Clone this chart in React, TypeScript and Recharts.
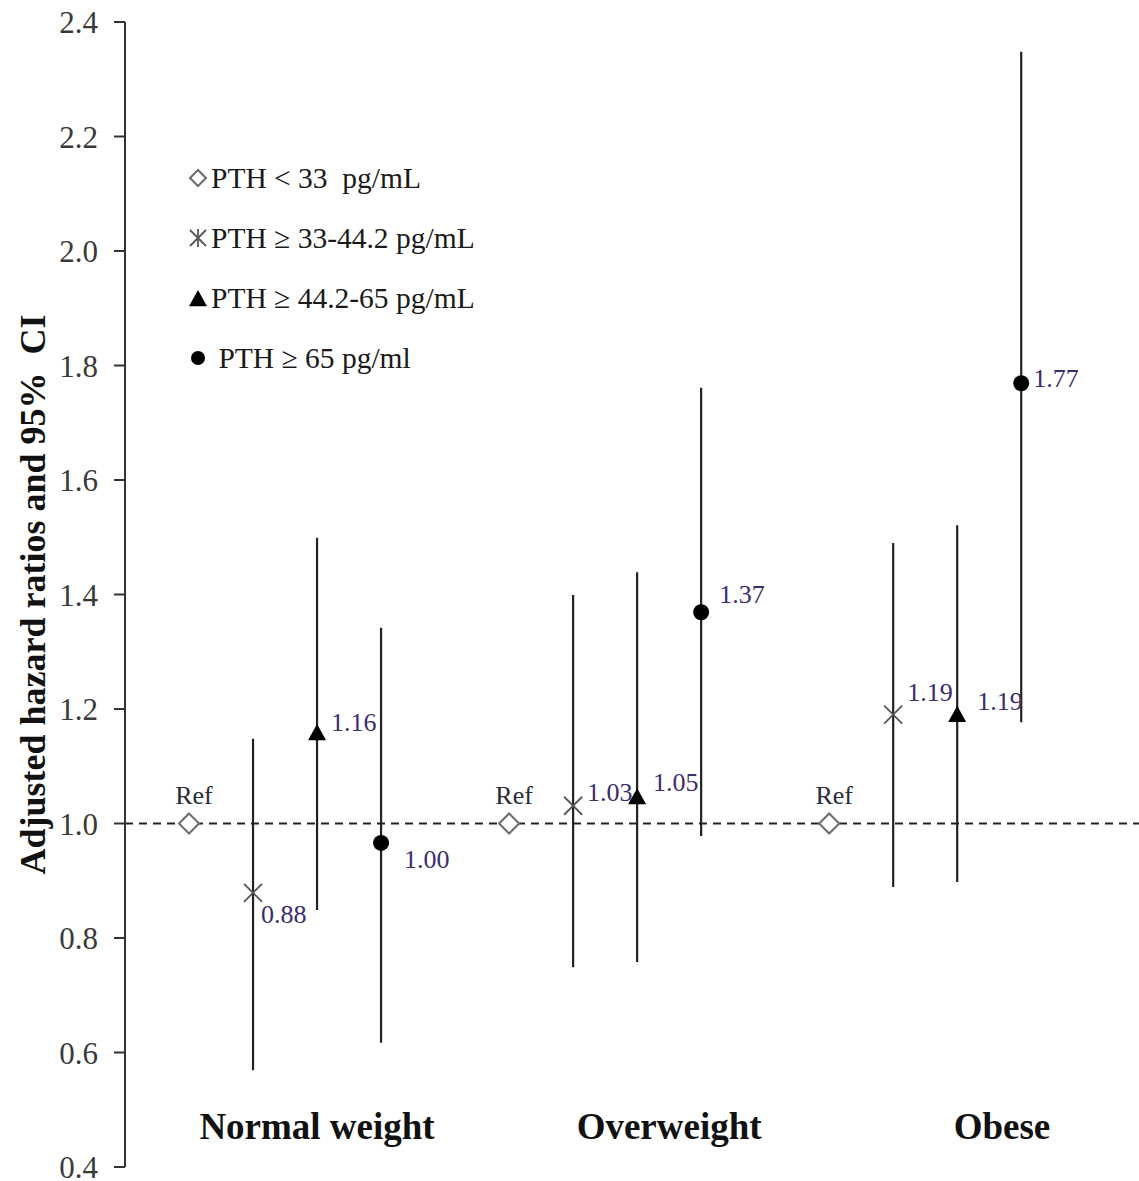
import {
  ComposedChart,
  Scatter,
  XAxis,
  YAxis,
  ErrorBar,
  ReferenceLine,
  Legend,
} from 'recharts';

// BMI groups and PTH quartile series (hazard ratio + 95% CI)
const groups = ['Normal weight', 'Overweight', 'Obese'];
const yTicks = [0.4, 0.6, 0.8, 1.0, 1.2, 1.4, 1.6, 1.8, 2.0, 2.2, 2.4];

const refHR = [1.0, 1.0, 1.0];

const hrQ2 = [0.879, 1.031, 1.19];
const ciQ2 = [[0.569, 1.148], [0.749, 1.399], [0.889, 1.49]];
const labelsQ2 = ['0.88', '1.03', '1.19'];

const hrQ3 = [1.158, 1.046, 1.19];
const ciQ3 = [[0.849, 1.499], [0.758, 1.439], [0.898, 1.521]];
const labelsQ3 = ['1.16', '1.05', '1.19'];

const hrQ4 = [0.966, 1.369, 1.769];
const ciQ4 = [[0.617, 1.342], [0.978, 1.761], [1.177, 2.348]];
const labelsQ4 = ['1.00', '1.37', '1.77'];

const legendItems = [
  { key: 'ref', text: 'PTH < 33  pg/mL' },
  { key: 'q2', text: 'PTH ≥ 33-44.2 pg/mL' },
  { key: 'q3', text: 'PTH ≥ 44.2-65 pg/mL' },
  { key: 'q4', text: ' PTH ≥ 65 pg/ml' },
];

const SERIF = '"Liberation Serif", "Times New Roman", Times, serif';
const LABEL_COLOR = '#3b2c6e';

// where each group's points sit on the numeric x axis
const xPos = (g: number, s: number) => g * 5 + s + 1;
const GROUP_LABEL_X = [3, 8.5, 13.7];

// text offsets for the value labels (dx to text start, dy to text middle)
const OFFSETS: Record<string, number[][]> = {
  q2: [[8, 22], [14, -13], [14, -22]],
  q3: [[14, -11], [16, -15], [20, -13]],
  q4: [[23, 17], [18, -18], [12, -5]],
};

const build = (hr: number[], ci: number[][], labels: string[], s: number) =>
  hr.map((v, g) => ({
    x: xPos(g, s),
    y: v,
    err: [v - ci[g][0], ci[g][1] - v],
    label: labels[g],
    g,
  }));

const refData = refHR.map((v, g) => ({ x: xPos(g, 0), y: v, g }));
const q2Data = build(hrQ2, ciQ2, labelsQ2, 1);
const q3Data = build(hrQ3, ciQ3, labelsQ3, 2);
const q4Data = build(hrQ4, ciQ4, labelsQ4, 3);
const groupLabelData = groups.map((name, g) => ({ x: GROUP_LABEL_X[g], y: 0.47, name }));

const Diamond = ({ cx, cy, r = 10 }: any) => (
  <path
    d={`M${cx},${cy - r} L${cx + r},${cy} L${cx},${cy + r} L${cx - r},${cy} Z`}
    fill="#fff"
    stroke="#6b6b6b"
    strokeWidth={2}
  />
);

const Star = ({ cx, cy, r = 9, vertical = false }: any) => (
  <g stroke="#555" strokeWidth={1.8}>
    <line x1={cx - r} y1={cy - r} x2={cx + r} y2={cy + r} />
    <line x1={cx - r} y1={cy + r} x2={cx + r} y2={cy - r} />
    {vertical && <line x1={cx} y1={cy - r - 1} x2={cx} y2={cy + r + 1} />}
  </g>
);

const Triangle = ({ cx, cy, r = 9 }: any) => (
  <path d={`M${cx},${cy - r} L${cx + r},${cy + r * 0.8} L${cx - r},${cy + r * 0.8} Z`} fill="#000" />
);

const Dot = ({ cx, cy, r = 8 }: any) => <circle cx={cx} cy={cy} r={r} fill="#000" />;

const valueLabel = (key: string, p: any) => {
  const off = OFFSETS[key][p.payload.g];
  return (
    <text
      x={p.cx + off[0]}
      y={p.cy + off[1]}
      dominantBaseline="central"
      fontFamily={SERIF}
      fontSize={26}
      fill={LABEL_COLOR}
    >
      {p.payload.label}
    </text>
  );
};

const renderLegend = () => (
  <div style={{ fontFamily: SERIF, fontSize: 29.5, color: '#1a1a1a', textAlign: 'left' }}>
    {legendItems.map((item) => (
      <div key={item.key} style={{ display: 'flex', alignItems: 'center', height: 60, whiteSpace: 'pre' }}>
        <svg width={24} height={24} style={{ marginRight: 1 }}>
          {item.key === 'ref' && <Diamond cx={12} cy={12} r={8} />}
          {item.key === 'q2' && <Star cx={12} cy={12} r={8} vertical />}
          {item.key === 'q3' && <Triangle cx={12} cy={13} r={9} />}
          {item.key === 'q4' && <Dot cx={12} cy={12} r={7} />}
        </svg>
        <span>{item.text}</span>
      </div>
    ))}
  </div>
);

export default function App() {
  return (
    <div style={{ position: 'absolute', left: 0, top: 0, background: '#fff' }}>
      <ComposedChart width={1139} height={1181} margin={{ top: 22, right: 0, bottom: 14, left: 0 }}>
        <XAxis type="number" dataKey="x" domain={[0, 15.84]} hide />
        <YAxis
          type="number"
          dataKey="y"
          domain={[0.4, 2.4]}
          ticks={yTicks}
          interval={0}
          width={125}
          tickFormatter={(v: number) => v.toFixed(1)}
          axisLine={{ stroke: '#333', strokeWidth: 2 }}
          tickLine={{ stroke: '#333', strokeWidth: 2 }}
          tickSize={11}
          tickMargin={16}
          tick={{ fontFamily: SERIF, fontSize: 31, fill: '#3a3a3a' }}
          label={{
            content: (props: any) => {
              const vb = props.viewBox;
              const cx = vb.x + 33;
              const cy = vb.y + vb.height / 2;
              return (
                <text
                  x={cx}
                  y={cy}
                  transform={`rotate(-90, ${cx}, ${cy})`}
                  textAnchor="middle"
                  dominantBaseline="central"
                  fontFamily={SERIF}
                  fontWeight="bold"
                  fontSize={36}
                  fill="#111"
                  style={{ whiteSpace: 'pre' }}
                >
                  {'Adjusted hazard ratios and 95%  CI'}
                </text>
              );
            },
          }}
        />
        <ReferenceLine y={1} stroke="#222" strokeWidth={2} strokeDasharray="8 6" />
        <Legend
          layout="horizontal"
          align="center"
          verticalAlign="middle"
          content={renderLegend}
          wrapperStyle={{ left: 186, top: 148, width: 340 }}
        />
        <Scatter
          data={refData}
          isAnimationActive={false}
          shape={(p: any) => (
            <g>
              <Diamond cx={p.cx} cy={p.cy} />
              <text
                x={p.cx + 5}
                y={p.cy - 28}
                textAnchor="middle"
                dominantBaseline="central"
                fontFamily={SERIF}
                fontSize={26}
                fill="#2a2a3a"
              >
                Ref
              </text>
            </g>
          )}
        />
        <Scatter
          data={q2Data}
          isAnimationActive={false}
          shape={(p: any) => (
            <g>
              <Star cx={p.cx} cy={p.cy} />
              {valueLabel('q2', p)}
            </g>
          )}
        >
          <ErrorBar dataKey="err" direction="y" width={0} stroke="#222" strokeWidth={2.2} />
        </Scatter>
        <Scatter
          data={q3Data}
          isAnimationActive={false}
          shape={(p: any) => (
            <g>
              <Triangle cx={p.cx} cy={p.cy} />
              {valueLabel('q3', p)}
            </g>
          )}
        >
          <ErrorBar dataKey="err" direction="y" width={0} stroke="#222" strokeWidth={2.2} />
        </Scatter>
        <Scatter
          data={q4Data}
          isAnimationActive={false}
          shape={(p: any) => (
            <g>
              <Dot cx={p.cx} cy={p.cy} />
              {valueLabel('q4', p)}
            </g>
          )}
        >
          <ErrorBar dataKey="err" direction="y" width={0} stroke="#222" strokeWidth={2.2} />
        </Scatter>
        <Scatter
          data={groupLabelData}
          isAnimationActive={false}
          shape={(p: any) => (
            <text
              x={p.cx}
              y={p.cy}
              textAnchor="middle"
              dominantBaseline="central"
              fontFamily={SERIF}
              fontWeight="bold"
              fontSize={37}
              fill="#111"
            >
              {p.payload.name}
            </text>
          )}
        />
      </ComposedChart>
    </div>
  );
}
